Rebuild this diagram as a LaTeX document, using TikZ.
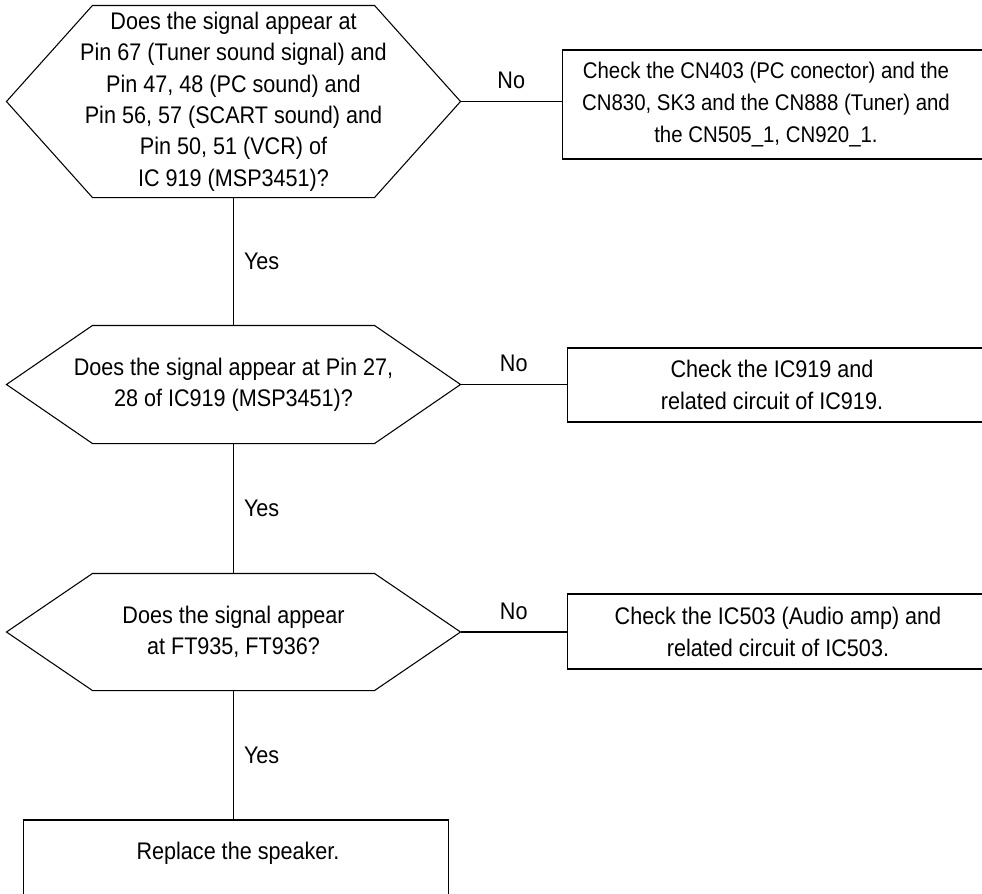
\documentclass[tikz,border=0pt]{standalone}
\usepackage{fontspec}
\setmainfont[FakeStretch=0.9]{Liberation Sans}
\usetikzlibrary{positioning}
\begin{document}
\begin{tikzpicture}[x=0.75pt,y=-0.75pt,line width=0.8pt,
      every node/.style={font=\fontsize{18}{23.5}\selectfont, align=center, inner sep=0pt},
      ask/.style={minimum width=339.75pt},
      outbox/.style={draw, minimum width=328.5pt, anchor=west}]
   \useasboundingbox (0,0) rectangle (982,893);
   \clip (0,0) rectangle (982,893);
   % questions
   \node[ask, minimum height=143.25pt] (qA) at (233.5,101.5) {Does the signal appear at\\Pin 67 (Tuner sound signal) and\\Pin 47, 48 (PC sound) and\\Pin 56, 57 (SCART sound) and\\Pin 50, 51 (VCR) of\\IC 919 (MSP3451)?};
   \node[ask, minimum height=87.75pt] (qB) at (233.5,384.5) {Does the signal appear at Pin 27,\\28 of IC919 (MSP3451)?};
   \node[ask, minimum height=87pt] (qC) at (233.5,632) {Does the signal appear\\at FT935, FT936?};
   \foreach \q in {qA,qB,qC} {
      \draw ([xshift=64.5pt]\q.north west) -- ([xshift=-64.5pt]\q.north east) -- (\q.east)
         -- ([xshift=-64.5pt]\q.south east) -- ([xshift=64.5pt]\q.south west) -- (\q.west) -- cycle;
   }
   % checks
   \node[outbox, minimum height=81.75pt] (chkA) at (562,104.5) {};
   \node[outbox, minimum height=55.5pt] (chkB) at (567,385) {};
   \node[outbox, minimum height=56.25pt] (chkC) at (567,631.5) {};
   \node[draw, minimum width=318.75pt, minimum height=82.5pt] (fix) at (236,875) {};
   \node[font=\fontsize{17}{24}\selectfont] (chkAt) at (766,105) {Check the CN403 (PC conector) and the\\CN830, SK3 and the CN888 (Tuner) and\\the CN505\_1, CN920\_1.};
   \node (chkBt) at (772,385) {Check the IC919 and\\related circuit of IC919.};
   \node (chkCt) at (778,632) {Check the IC503 (Audio amp) and\\related circuit of IC503.};
   \node (fixt) at (238,853) {Replace the speaker.};
   % connectors
   \foreach \q / \c in {qA/chkA, qB/chkB, qC/chkC} {
      \draw (\q.east) -- node[above=9pt] {No} (\q.east -| \c.west);
   }
   \foreach \a / \b in {qA/qB, qB/qC, qC/fix} {
      \draw (\a.south) -- node[right=7.5pt] {Yes} (\a.south |- \b.north);
   }
\end{tikzpicture}
\end{document}
